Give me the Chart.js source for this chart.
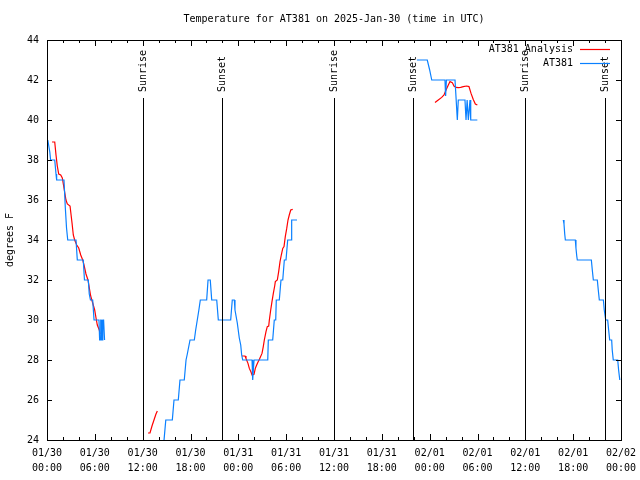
<!DOCTYPE html>
<html><head><meta charset="utf-8">
<script src="https://cdn.jsdelivr.net/npm/chart.js@4/dist/chart.umd.min.js"></script>
<style>html,body{margin:0;padding:0;background:#fff}canvas{display:block}</style>
</head><body>
<canvas id="c" width="640" height="480"></canvas>
<script>
// Hours since 2025-01-30 00:00 UTC
const xTickLabels = [["01/30","00:00"],["01/30","06:00"],["01/30","12:00"],["01/30","18:00"],
  ["01/31","00:00"],["01/31","06:00"],["01/31","12:00"],["01/31","18:00"],
  ["02/01","00:00"],["02/01","06:00"],["02/01","12:00"],["02/01","18:00"],["02/02","00:00"]];
const yTickValues = [24,26,28,30,32,34,36,38,40,42,44];

// AT381 observations (null = gap)
const obsHours = [
  0.1,0.35,0.45,0.97,1.13,1.21,2.13,2.3,2.45,2.6,3.64,3.8,4.55,4.7,5.18,5.3,5.45,5.73,5.9,6.52,6.6,6.68,6.74,6.8,6.86,6.95,7.0,7.1,7.22,
  10,
  14.55,14.68,14.9,15.72,15.93,16.47,16.68,17.22,17.44,17.6,17.94,18.48,18.65,18.85,19.05,19.23,20.03,20.2,20.48,20.66,21.29,21.49,23.04,23.24,23.5,23.58,23.87,24.12,24.3,24.42,24.55,25.72,25.8,25.97,27.69,27.76,28.31,28.51,28.69,28.76,29.14,29.35,29.57,29.77,29.98,30.19,30.61,30.69,31.36,
  40,
  46.4,47.7,48.0,48.26,49.92,50.0,50.1,51.18,51.47,51.59,52.43,52.56,52.7,52.85,53.06,53.15,53.98,
  60,
  64.76,64.85,64.94,65.02,66.27,66.35,66.45,66.52,68.28,68.4,68.53,69.03,69.15,69.28,69.79,69.9,70.08,70.33,70.45,70.58,70.83,70.9,71.03,71.59,71.7,71.85
];
const obsTemps = [
  39.0,38.4,38.0,38.0,37.3,37.0,37.0,35.6,34.6,34.0,34.0,33.0,33.0,32.0,32.0,31.3,31.0,31.0,30.0,30.0,29.0,29.0,30.0,30.0,29.0,29.0,30.0,30.0,29.0,
  null,
  23.5,24.0,25.0,25.0,26.0,26.0,27.0,27.0,28.0,28.3,29.0,29.0,29.5,30.0,30.5,31.0,31.0,32.0,32.0,31.0,31.0,30.0,30.0,31.0,31.0,30.5,29.85,29.1,28.75,28.25,28.0,28.0,27.0,28.0,28.0,29.0,29.0,30.0,30.0,31.0,31.0,32.0,32.0,33.0,33.0,34.0,34.0,35.0,35.0,
  null,
  43.0,43.0,42.5,42.0,42.0,41.2,42.0,42.0,40.0,41.0,41.0,40.0,41.0,40.0,41.0,40.0,40.0,
  null,
  35.0,34.8,34.3,34.0,34.0,33.6,33.2,33.0,33.0,32.5,32.0,32.0,31.5,31.0,31.0,30.5,30.0,30.0,29.5,29.0,29.0,28.5,28.0,28.0,27.5,27.0
];

// AT381 Analysis (null = gap)
const anaHours = [
  0.63,0.97,1.13,1.29,1.47,1.72,1.92,2.13,2.38,2.55,2.89,3.14,3.30,3.47,3.73,3.98,4.23,4.48,4.64,4.89,5.14,5.31,5.48,5.73,5.98,6.15,6.31,6.56,6.65,
  10,
  12.67,12.92,13.17,13.42,13.67,13.84,
  20,
  24.46,24.84,24.96,25.21,25.38,25.59,25.72,25.97,26.13,26.3,26.47,26.63,26.97,27.13,27.26,27.47,27.63,27.81,27.89,28.06,28.22,28.39,28.56,28.64,28.89,29.06,29.23,29.39,29.57,29.73,29.89,30.07,30.23,30.39,30.57,30.82,
  40,
  48.67,49.08,49.51,49.8,50.05,50.34,50.55,50.84,51.05,51.3,51.59,51.89,52.22,52.64,52.93,53.19,53.47,53.73,53.98
];
const anaTemps = [
  38.9,38.9,38.25,37.7,37.3,37.25,37.1,36.6,36.0,35.8,35.7,34.85,34.25,34.0,33.75,33.6,33.25,33.0,32.75,32.3,32.0,31.6,31.2,30.85,30.5,30.1,29.75,29.5,29.3,
  null,
  24.35,24.35,24.7,25.0,25.3,25.45,
  null,
  28.2,28.2,28.08,27.83,27.58,27.4,27.25,27.28,27.58,27.75,27.9,28.03,28.33,28.67,29.0,29.42,29.67,29.7,30.0,30.5,30.92,31.33,31.7,31.92,32.0,32.42,32.92,33.25,33.58,33.67,34.17,34.58,35.0,35.25,35.5,35.53,
  null,
  40.88,41.0,41.13,41.25,41.5,41.75,41.92,41.87,41.7,41.63,41.62,41.63,41.67,41.7,41.67,41.33,41.03,40.8,40.75
];

const sunEventHours = [12.05, 21.95, 36.03, 45.93, 60.02, 69.95];
const sunEventNames = ["Sunrise","Sunset","Sunrise","Sunset","Sunrise","Sunset"];

const FONT = '"DejaVu Sans Mono", "Liberation Mono", monospace';
const toPts = (hs, ts) => hs.map((h, i) => ({x: h, y: ts[i]}));

const overlay = {
  id: 'overlay',
  afterDatasetsDraw(chart) {
    const {ctx, chartArea: a, scales: {x, y}} = chart;
    ctx.save();
    ctx.strokeStyle = '#000';
    ctx.lineWidth = 1;
    ctx.beginPath();
    for (let h = 0; h <= 72; h += 2) {
      const px = Math.round(x.getPixelForValue(h)) + 0.5;
      const L = (h % 6 === 0) ? 6 : 3;
      ctx.moveTo(px, a.bottom); ctx.lineTo(px, a.bottom - L);
      ctx.moveTo(px, a.top); ctx.lineTo(px, a.top + L);
    }
    yTickValues.forEach(t => {
      const py = Math.round(y.getPixelForValue(t)) + 0.5;
      ctx.moveTo(a.left, py); ctx.lineTo(a.left + 5, py);
      ctx.moveTo(a.right, py); ctx.lineTo(a.right - 5, py);
    });
    ctx.stroke();
    // sun events
    ctx.fillStyle = '#000';
    ctx.font = '10px ' + FONT;
    sunEventHours.forEach((h, i) => {
      const px = Math.round(x.getPixelForValue(h)) + 0.5;
      ctx.beginPath();
      ctx.moveTo(px, a.top + 58); ctx.lineTo(px, a.bottom);
      ctx.stroke();
      ctx.save();
      ctx.translate(px, a.top + 52);
      ctx.rotate(-Math.PI / 2);
      ctx.textAlign = 'left';
      ctx.textBaseline = 'middle';
      ctx.fillText(sunEventNames[i], 0, 0);
      ctx.restore();
    });
    // frame
    ctx.strokeRect(Math.round(a.left) + 0.5, Math.round(a.top) + 0.5,
                   Math.round(a.right - a.left), Math.round(a.bottom - a.top));
    // legend
    ctx.textAlign = 'right';
    ctx.textBaseline = 'middle';
    chart.data.datasets.forEach((ds, i) => {
      const ly = a.top + 9 + i * 14;
      ctx.fillStyle = '#000';
      ctx.fillText(ds.label, 573, ly);
      ctx.strokeStyle = ds.borderColor;
      ctx.lineWidth = 1.2;
      ctx.beginPath();
      ctx.moveTo(580, Math.round(ly) + 0.5); ctx.lineTo(610, Math.round(ly) + 0.5);
      ctx.stroke();
    });
    ctx.restore();
  }
};

new Chart(document.getElementById('c'), {
  type: 'line',
  data: {
    datasets: [
      {label: 'AT381 Analysis', data: toPts(anaHours, anaTemps), borderColor: '#ff0000',
       borderWidth: 1.2, pointRadius: 0, spanGaps: false, tension: 0, order: 1},
      {label: 'AT381', data: toPts(obsHours, obsTemps), borderColor: '#0a80ff',
       borderWidth: 1.2, pointRadius: 0, spanGaps: false, tension: 0, order: 0}
    ]
  },
  options: {
    responsive: false, animation: false, devicePixelRatio: 1,
    layout: {padding: {left: 0, right: 19, top: 0, bottom: 0}},
    plugins: {
      legend: {display: false},
      tooltip: {enabled: false},
      title: {display: true, fullSize: false, text: 'Temperature for AT381 on 2025-Jan-30 (time in UTC)',
              color: '#000', font: {family: FONT, size: 10, weight: 'normal'},
              padding: {top: 13, bottom: 15}}
    },
    scales: {
      x: {
        type: 'linear', min: 0, max: 72,
        afterBuildTicks: s => { s.ticks = xTickLabels.map((l, i) => ({value: i * 6})); },
        afterFit: s => { s.height = 40; s.paddingRight = 0; s.paddingLeft = 0; },
        grid: {display: false, drawTicks: false},
        border: {display: false},
        ticks: {
          autoSkip: false, maxRotation: 0, minRotation: 0, padding: 6, color: '#000',
          font: {family: FONT, size: 10, lineHeight: 1.5},
          callback: v => xTickLabels[Math.round(v / 6)]
        }
      },
      y: {
        min: 24, max: 44,
        afterBuildTicks: s => { s.ticks = yTickValues.map(v => ({value: v})); },
        afterFit: s => { s.width = 47; },
        grid: {display: false, drawTicks: false},
        border: {display: false},
        title: {display: true, text: 'degrees F', color: '#000',
                font: {family: FONT, size: 10}, padding: {top: 4, bottom: 0}},
        ticks: {padding: 8, color: '#000', font: {family: FONT, size: 10},
                callback: v => String(v)}
      }
    }
  },
  plugins: [overlay]
});
</script>
</body></html>
